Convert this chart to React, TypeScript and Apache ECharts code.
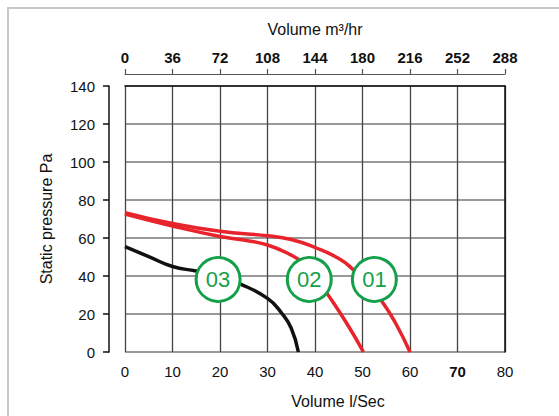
import React, { useEffect, useRef } from "react";
import * as echarts from "echarts";

const bottomTicks = [0, 10, 20, 30, 40, 50, 60, 70, 80];
const topTicks = [0, 36, 72, 108, 144, 180, 216, 252, 288];
const yTicks = [0, 20, 40, 60, 80, 100, 120, 140];

const curve01: [number, number][] = [
  [0, 73.3], [10, 67.6], [20, 63.5], [30, 61.2], [35, 59.2], [40, 55], [45, 49.2],
  [48, 43.5], [51, 36], [54, 27], [57, 15], [60, 0],
];
const curve02: [number, number][] = [
  [0, 72.6], [10, 66.3], [20, 60.8], [25, 58.9], [30, 56.3], [35, 51], [37.5, 46.8],
  [40, 40], [42.5, 31], [46.7, 15], [50.2, 0],
];
const curve03: [number, number][] = [
  [0, 55.4], [5, 50.2], [10, 45], [15, 42.6], [20, 39.8], [24, 36.1], [30, 28.2],
  [33, 20.4], [35, 12.5], [36.5, 0],
];
const badges: { name: string; value: [number, number] }[] = [
  { name: "01", value: [52.5, 38.2] },
  { name: "02", value: [38.8, 38.2] },
  { name: "03", value: [19.6, 38.2] },
];

const FONT = "'Liberation Sans', Arial, Helvetica, sans-serif";
const NARROW = "'Liberation Sans Narrow', 'Liberation Sans', Arial, sans-serif";
const RED = "#e8232b";
const GREEN = "#14a04b";

export default function App() {
  const ref = useRef<HTMLDivElement>(null);
  useEffect(() => {
    document.body.style.margin = "0";
    const chart = echarts.init(ref.current!, null, { renderer: "svg" });
    const frameAxis = {
      type: "value",
      axisLabel: { show: false },
      axisTick: { show: false },
      splitLine: { show: false },
      axisLine: { show: true, onZero: false, lineStyle: { color: "#111", width: 1.5 } },
    };
    chart.setOption({
      animation: false,
      textStyle: { fontFamily: FONT },
      graphic: [
        {
          type: "rect",
          shape: { x: 8, y: 8, width: 1000, height: 1000 },
          style: { fill: "none", stroke: "#c8c8c8", lineWidth: 2 },
          silent: true,
        },
      ],
      grid: {
        left: 125,
        top: 86,
        width: 380,
        height: 266,
        show: false,
      },
      xAxis: [
        {
          type: "value",
          min: bottomTicks[0],
          max: bottomTicks[bottomTicks.length - 1],
          interval: 10,
          position: "bottom",
          axisLine: { show: false, onZero: false },
          axisTick: { show: false },
          splitLine: { show: true, lineStyle: { color: "#444", width: 1.3 } },
          axisLabel: {
            margin: 12,
            fontSize: 15,
            color: "#111",
            fontFamily: FONT,
            formatter: (v: number) => (v === 70 ? "{b|70}" : String(v)),
            rich: { b: { fontWeight: "bold", fontSize: 15, color: "#111", fontFamily: FONT } },
          },
          name: "Volume l/Sec",
          nameLocation: "middle",
          nameGap: 41,
          nameTextStyle: { fontSize: 16, color: "#111", padding: [0, 0, 0, 46], fontFamily: FONT },
        },
        {
          type: "value",
          min: topTicks[0],
          max: topTicks[topTicks.length - 1],
          interval: 36,
          position: "top",
          offset: 12,
          axisLine: { show: true, onZero: false, lineStyle: { color: "#555", width: 1.2 } },
          axisTick: { show: true, length: 5, lineStyle: { color: "#555", width: 1.2 } },
          splitLine: { show: false },
          axisLabel: { margin: 9, fontSize: 15, fontWeight: "bold", color: "#111", fontFamily: FONT },
          name: "Volume m³/hr",
          nameLocation: "middle",
          nameGap: 37,
          nameTextStyle: { fontSize: 16, color: "#111", fontFamily: FONT },
        },
        { ...frameAxis, position: "top", offset: 0, min: 0, max: 80 },
      ],
      yAxis: [
        {
          type: "value",
          min: yTicks[0],
          max: yTicks[yTicks.length - 1],
          interval: 20,
          offset: 16,
          axisLine: { show: true, onZero: false, lineStyle: { color: "#111", width: 1.5 } },
          axisTick: { show: true, length: 6, lineStyle: { color: "#111", width: 1.5 } },
          splitLine: { show: true, lineStyle: { color: "#777", width: 1.5 } },
          axisLabel: { margin: 14, fontSize: 15, color: "#111", fontFamily: FONT },
          name: "Static pressure Pa",
          nameLocation: "middle",
          nameGap: 55,
          nameTextStyle: { fontSize: 16, color: "#111", fontFamily: FONT },
        },
        { ...frameAxis, position: "right", offset: 0, min: 0, max: 140 },
      ],
      series: [
        {
          name: "01",
          type: "line",
          data: curve01,
          smooth: 0.5,
          showSymbol: false,
          lineStyle: { color: RED, width: 3.5 },
          z: 3,
        },
        {
          name: "02",
          type: "line",
          data: curve02,
          smooth: 0.5,
          showSymbol: false,
          lineStyle: { color: RED, width: 3.5 },
          z: 3,
        },
        {
          name: "03",
          type: "line",
          data: curve03,
          smooth: 0.5,
          showSymbol: false,
          lineStyle: { color: "#111", width: 3.5 },
          z: 3,
        },
        {
          type: "scatter",
          data: badges,
          symbol: "circle",
          symbolSize: 44,
          itemStyle: { color: "#fff", borderColor: GREEN, borderWidth: 3, opacity: 1 },
          label: {
            show: true,
            position: "inside",
            formatter: (p: any) => p.name,
            color: GREEN,
            fontSize: 22,
            fontFamily: NARROW,
          },
          z: 5,
        },
      ],
    });
    return () => chart.dispose();
  }, []);
  return <div ref={ref} style={{ width: 559, height: 416 }} />;
}
